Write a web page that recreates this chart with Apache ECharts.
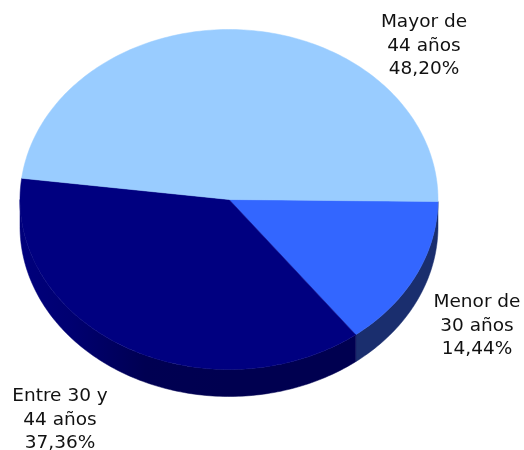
<!DOCTYPE html>
<html>
<head>
<meta charset="utf-8">
<style>
  html, body { margin: 0; padding: 0; background: #fff; }
  #chart { width: 524px; height: 450px; }
</style>
</head>
<body>
<div id="chart"></div>
<script src="https://cdn.jsdelivr.net/npm/echarts@6/dist/echarts.min.js"></script>
<script>
const categories = ['Menor de\n30 años', 'Entre 30 y\n44 años', 'Mayor de\n44 años'];
const shares = [14.44, 37.36, 48.20];

const topColors = ['#3366ff', '#000080', '#99ccff'];
const labelCenters = [[477, 326], [60, 420], [424, 46]];

// flattened pie
const cx = 229, cy = 199.5, rx = 209, ry = 170, depth = 27;
const startDeg = 0.7;

const sideColors = [
  '#1a2e6e',
  new echarts.graphic.LinearGradient(cx - rx, 0, cx, 0, [
    { offset: 0, color: '#00007c' },
    { offset: 0.25, color: '#000070' },
    { offset: 0.6, color: '#000052' },
    { offset: 1, color: '#000050' }
  ], true),
  '#99ccff'
];

function ellipsePoint(deg, dy) {
  const a = deg * Math.PI / 180;
  return [cx + rx * Math.cos(a), cy + ry * Math.sin(a) + dy];
}

function arcPoints(from, to, dy) {
  const pts = [];
  const steps = Math.max(2, Math.ceil(Math.abs(to - from)));
  for (let i = 0; i <= steps; i++) {
    pts.push(ellipsePoint(from + (to - from) * i / steps, dy));
  }
  return pts;
}

const total = shares.reduce((a, b) => a + b, 0);

function renderSlice(params, api) {
  const i = params.dataIndex;
  let from = startDeg;
  for (let k = 0; k < i; k++) from += shares[k] / total * 360;
  const to = from + api.value(0) / total * 360;
  const children = [];

  // side wall only shows on the front half
  const sideFrom = Math.max(from, 0), sideTo = Math.min(to, 180);
  if (sideTo > sideFrom) {
    const side = arcPoints(sideFrom, sideTo, 0).concat(arcPoints(sideTo, sideFrom, depth));
    children.push({
      type: 'polygon',
      shape: { points: side },
      style: { fill: sideColors[i], stroke: sideColors[i], lineWidth: 0.5 }
    });
  }

  children.push({
    type: 'polygon',
    shape: { points: [[cx, cy]].concat(arcPoints(from, to, 0)) },
    style: { fill: topColors[i], stroke: topColors[i], lineWidth: 0.5 }
  });

  children.push({
    type: 'text',
    x: labelCenters[i][0],
    y: labelCenters[i][1],
    style: {
      text: categories[i] + '\n' + shares[i].toFixed(2).replace('.', ',') + '%',
      fill: '#111',
      font: '18.5px "DejaVu Sans"',
      lineHeight: 23.5,
      align: 'center',
      verticalAlign: 'middle'
    }
  });

  return { type: 'group', children: children };
}

const chart = echarts.init(document.getElementById('chart'));
chart.setOption({
  animation: false,
  series: [{
    type: 'custom',
    coordinateSystem: 'none',
    renderItem: renderSlice,
    data: shares.map(v => [v])
  }]
});
</script>
</body>
</html>
